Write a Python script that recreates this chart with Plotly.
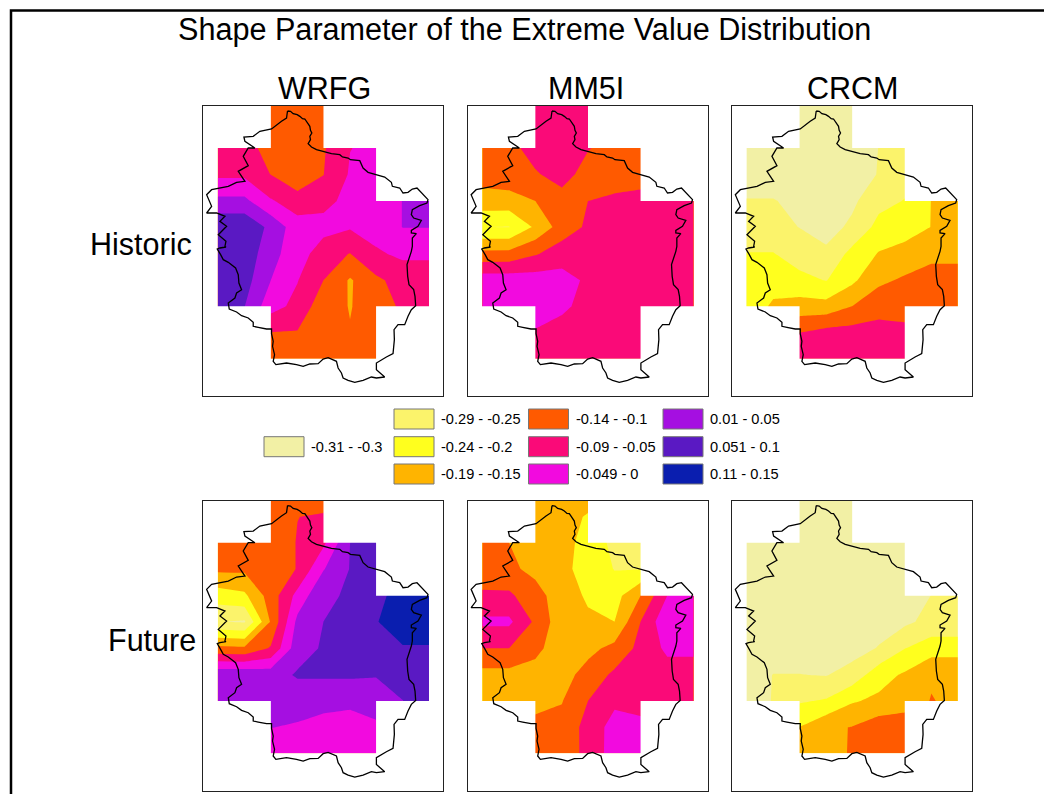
import plotly.graph_objects as go

FONT = "Liberation Sans"
TITLE = "Shape Parameter of the Extreme Value Distribution"
MODELS = ["WRFG", "MM5I", "CRCM"]
PERIODS = ["Historic", "Future"]
CLASS_LABELS = ["-0.31 - -0.3", "-0.29 - -0.25", "-0.24 - -0.2", "-0.19 - -0.15", "-0.14 - -0.1",
                "-0.09 - -0.05", "-0.049 - 0", "0.01 - 0.05", "0.051 - 0.1", "0.11 - 0.15"]
CLASS_COLORS = ["#F2F0A5", "#FBF36B", "#FFFF1E", "#FFB400", "#FF5A00",
                "#FA0A78", "#F20ADF", "#A50FE1", "#5A19C3", "#0A1EAF"]

GRID_X = [68, 148, 227, 307, 385, 465, 543, 623, 702]
GRID_Y = [-15, 65, 143, 222, 302, 380, 460, 540, 618, 697, 775]

WRFG_HIST = [
    [-.10, -.10, -.12, -.12, -.12, -.08, -.05, -.05, -.05],
    [-.10, -.10, -.12, -.12, -.12, -.08, -.05, -.05, -.05],
    [-.08, -.088, -.112, -.125, -.105, -.051, -.04, -.04, -.04],
    [-.06, -.06, -.101, -.14, -.101, -.045, -.035, .002, .002],
    [.0125, .0125, -.045, -.076, -.07, -.03, -.03, .001, .001],
    [.09, .09, .037, -.029, -.027, -.045, -.03, .001, .001],
    [.09, .09, .01, -.017, -.086, -.101, -.057, -.04, -.04],
    [.09, .07, 0, -.048, -.10, -.1555, -.11, -.08, -.08],
    [.09, .051, -.03, -.065, -.13, -.152, -.13, -.09, -.08],
    [.09, .05, -.101, -.103, -.13, -.148, -.13, -.09, -.08],
    [.09, .05, -.12, -.12, -.12, -.125, -.12, -.09, -.08],
]
MM5I_HIST = [
    [-.12, -.12, -.09, -.09, -.09, -.12, -.12, -.12, -.12],
    [-.12, -.12, -.09, -.09, -.09, -.12, -.12, -.12, -.12],
    [-.12, -.115, -.08, -.08, -.097, -.12, -.12, -.12, -.12],
    [-.13, -.12, -.105, -.08, -.12, -.125, -.12, -.12, -.12],
    [-.17, -.17, -.15, -.12, -.10, -.09, -.085, -.08, -.08],
    [-.2495, -.2515, -.192, -.127, -.092, -.08, -.08, -.075, -.075],
    [-.136, -.135, -.105, -.075, -.08, -.08, -.08, -.075, -.075],
    [-.02, -.02, -.025, -.03, -.0586, -.07, -.075, -.075, -.075],
    [-.02, -.02, -.02, -.04, -.067, -.07, -.075, -.075, -.075],
    [-.02, -.02, -.055, -.07, -.075, -.07, -.07, -.07, -.07],
    [-.02, -.02, -.07, -.07, -.07, -.07, -.07, -.07, -.07],
]
CRCM_HIST = [
    [-.32, -.32, -.32, -.32, -.32, -.32, -.32, -.32, -.32],
    [-.32, -.32, -.32, -.32, -.32, -.32, -.32, -.32, -.32],
    [-.31, -.31, -.31, -.33, -.32, -.2995, -.28, -.25, -.25],
    [-.32, -.32, -.31, -.33, -.32, -.298, -.27, -.25, -.25],
    [-.298, -.298, -.31, -.33, -.31, -.265, -.248, -.199, -.18],
    [-.285, -.285, -.301, -.32, -.29, -.235, -.225, -.199, -.18],
    [-.248, -.248, -.275, -.29, -.235, -.197, -.18, -.17, -.17],
    [-.23, -.225, -.235, -.252, -.21, -.16, -.143, -.117, -.117],
    [-.24, -.19, -.18, -.181, -.15, -.12, -.12, -.115, -.115],
    [-.24, -.19, -.10, -.082, -.08, -.08, -.087, -.087, -.087],
    [-.24, -.19, -.06, -.06, -.06, -.06, -.06, -.06, -.06],
]
WRFG_FUT = [
    [-.13, -.13, -.13, -.13, -.13, -.05, .05, .08, .08],
    [-.13, -.13, -.13, -.1005, -.095, -.05, .05, .08, .08],
    [-.12, -.125, -.125, -.098, -.06, .05, .08, .08, .08],
    [-.14, -.14, -.125, -.098, -.003, .052, .07, .09, .09],
    [-.225, -.21, -.127, -.034, .047, .052, .09, .115, .115],
    [-.298, -.305, -.145, .013, .05, .07, .098, .12, .12],
    [-.135, -.14, -.095, .03, .055, .07, .08, .097, .097],
    [.04, .04, .03, .055, .055, .055, .053, .06, .07],
    [.03, .03, .03, .02, .02, .02, .02, .0495, .07],
    [.03, .03, .001, -.005, -.0225, -.04, -.008, .05, .07],
    [.03, .03, -.03, -.03, -.03, -.04, -.03, .05, .07],
]
MM5I_FUT = [
    [-.14, -.14, -.17, -.17, -.17, -.2, -.2, -.2, -.2],
    [-.14, -.14, -.17, -.18, -.205, -.22, -.2, -.2, -.2],
    [-.14, -.15, -.16, -.185, -.215, -.265, -.27, -.2, -.2],
    [-.135, -.142, -.16, -.19, -.215, -.252, -.252, -.1, -.1],
    [-.09, -.09, -.135, -.171, -.208, -.22, -.15, -.05, -.04],
    [-.04, -.04, -.109, -.182, -.19, -.2, -.10, -.011, -.005],
    [-.10, -.10, -.14, -.172, -.165, -.135, -.086, -.04, -.04],
    [-.167, -.167, -.165, -.17, -.13, -.09, -.08, -.072, -.072],
    [-.18, -.18, -.16, -.152, -.10, -.06, -.07, -.08, -.08],
    [-.18, -.18, -.14, -.135, -.082, -.03, -.035, -.08, -.08],
    [-.18, -.18, -.14, -.14, -.08, -.03, -.03, -.08, -.08],
]
CRCM_FUT = [
    [-.32, -.32, -.32, -.32, -.32, -.32, -.32, -.32, -.32],
    [-.32, -.32, -.32, -.32, -.32, -.32, -.32, -.32, -.32],
    [-.32, -.32, -.32, -.32, -.32, -.32, -.32, -.32, -.32],
    [-.32, -.32, -.32, -.32, -.32, -.32, -.32, -.32, -.32],
    [-.32, -.32, -.32, -.32, -.32, -.32, -.33, -.299, -.295],
    [-.32, -.32, -.32, -.32, -.32, -.32, -.31, -.285, -.285],
    [-.32, -.32, -.32, -.32, -.32, -.297, -.251, -.2225, -.2225],
    [-.32, -.299, -.299, -.302, -.28, -.22, -.193, -.155, -.155],
    [-.33, -.297, -.255, -.245, -.205, -.19, -.175, -.148, -.16],
    [-.33, -.297, -.199, -.16, -.148, -.12, -.117, -.16, -.16],
    [-.33, -.297, -.17, -.19, -.14, -.115, -.115, -.16, -.16],
]

BASIN_X = [277, 286, 294, 306, 314, 322, 329, 336, 344, 346, 350, 344, 346, 339, 349, 364, 384,
           409, 434, 442, 459, 466, 494, 504, 519, 544, 569, 589, 592, 614, 624, 639, 652, 666, 676, 689, 699,
           696, 674, 652, 649, 656, 669, 679, 669, 649, 649, 664, 652, 652,
           649, 642, 636, 638, 642, 656, 660, 662, 649, 639, 629, 609, 597, 598, 594, 574, 544, 544, 569, 544,
           529, 504, 479, 459, 444, 439, 429, 424, 399, 384,
           369, 344, 324, 304, 274, 242, 234, 238, 232, 234, 229, 229, 214, 189, 174, 174, 159, 139, 124, 102,
           99, 119, 124, 139, 131, 129, 121, 99, 84, 76, 66, 74, 92,
           89, 92, 69, 94, 74, 89, 64, 34, 49, 34, 49, 74, 99, 124, 149, 129, 159, 144, 159, 179, 149, 146, 174,
           194, 229, 259, 274, 277]
BASIN_Y = [32, 33, 40, 43, 48, 55, 56, 68, 78, 90, 98, 108, 118, 130, 140, 148, 153,
           160, 163, 170, 173, 178, 181, 203, 216, 223, 230, 246, 258, 263, 278, 276, 266, 263, 273, 288, 298,
           308, 316, 328, 343, 353, 358, 360, 378, 390, 398, 400, 413, 438,
           453, 478, 493, 528, 553, 568, 588, 616, 628, 648, 673, 673, 688, 718, 760, 770, 788, 808, 830, 833,
           830, 840, 846, 840, 833, 818, 803, 783, 772, 776,
           790, 791, 798, 793, 788, 793, 783, 763, 738, 723, 700, 686, 686, 681, 678, 666, 653, 646, 635, 626,
           608, 593, 578, 568, 548, 523, 503, 486, 478, 463, 446, 443, 440,
           438, 423, 403, 378, 363, 348, 338, 338, 318, 283, 268, 263, 258, 246, 243, 213, 196, 168, 143, 143, 123,
           110, 108, 93, 86, 63, 53, 32]

GRIDS = [[WRFG_HIST, MM5I_HIST, CRCM_HIST], [WRFG_FUT, MM5I_FUT, CRCM_FUT]]

W, H = 1044, 794
PANEL_LEFT = [203.3, 467.8, 732.0]
PANEL_TOP = [106.0, 500.7]
PANEL_W, PANEL_H = 240.0, 290.0
RANGE_X = [24, 745]
RANGE_Y = [887, 17]


def px(x):
    return x / W


def py(y):
    return 1 - y / H


# the grid is a plus shape: the corners of the rectangle are blanked
X, Y = GRID_X, GRID_Y
PAD = 8
blanks = [(X[0] - PAD, X[2], Y[0], Y[2]), (X[4], X[8] + PAD, Y[0], Y[2]), (X[6], X[8] + PAD, Y[2], Y[4]),
          (X[0] - PAD, X[2], Y[8], Y[10] + PAD), (X[6], X[8] + PAD, Y[8], Y[10] + PAD),
          (X[2], X[6], Y[10], Y[10] + PAD)]
blank_x, blank_y = [], []
for x0, x1, y0, y1 in blanks:
    blank_x += [x0, x1, x1, x0, x0, None]
    blank_y += [y0, y0, y1, y1, y0, None]

scale = [[i / (len(CLASS_COLORS) - 1), c] for i, c in enumerate(CLASS_COLORS)]

fig = go.Figure()
layout = {}
n = 0
for r in range(2):
    for c in range(3):
        n += 1
        s = "" if n == 1 else str(n)
        fig.add_trace(go.Contour(
            x=GRID_X, y=GRID_Y, z=GRIDS[r][c], xaxis="x" + s, yaxis="y" + s,
            colorscale=scale, showscale=False, hoverinfo="skip", connectgaps=True,
            autocontour=False, contours=dict(start=-0.30, end=0.10, size=0.05, coloring="fill", showlines=False),
            line=dict(width=0, smoothing=0)))
        fig.add_trace(go.Scatter(
            x=blank_x, y=blank_y, xaxis="x" + s, yaxis="y" + s, mode="lines", fill="toself",
            fillcolor="white", line=dict(width=0, color="white"), hoverinfo="skip", showlegend=False))
        fig.add_trace(go.Scatter(
            x=BASIN_X, y=BASIN_Y, xaxis="x" + s, yaxis="y" + s, mode="lines",
            line=dict(color="black", width=1.3), hoverinfo="skip", showlegend=False))
        axis = dict(showgrid=False, zeroline=False, showticklabels=False, ticks="", showline=True,
                    linecolor="#222222", linewidth=1, mirror=True)
        layout["xaxis" + s] = dict(axis, range=RANGE_X, anchor="y" + s,
                                   domain=[px(PANEL_LEFT[c]), px(PANEL_LEFT[c] + PANEL_W)])
        layout["yaxis" + s] = dict(axis, range=RANGE_Y, anchor="x" + s,
                                   domain=[py(PANEL_TOP[r] + PANEL_H), py(PANEL_TOP[r])])

annotations = []


def text(t, x, y, size, anchor="center"):
    annotations.append(dict(text=t, x=px(x), y=py(y), xref="paper", yref="paper", showarrow=False,
                            xanchor=anchor, yanchor="middle", font=dict(family=FONT, size=size, color="black")))


text(TITLE, 524, 29, 30.6)
for name, cx in zip(MODELS, [324.5, 586, 853]):
    text(name, cx, 88, 30.5)
text(PERIODS[0], 140.5, 244, 30.5)
text(PERIODS[1], 151.5, 640, 30.5)

shapes = [dict(type="path", xref="paper", yref="paper",
               path=f"M {px(11)} 0 L {px(11)} {py(10.5)} L 1 {py(10.5)}",
               line=dict(color="black", width=2.5))]

swatch_pos = [(264, 446.7)] + [(x, y) for x in (394, 528.5, 663) for y in (419, 446.7, 474)]
for (sx, sy), col, lab in zip(swatch_pos, CLASS_COLORS, CLASS_LABELS):
    shapes.append(dict(type="rect", xref="paper", yref="paper", x0=px(sx), x1=px(sx + 40),
                       y0=py(sy - 10), y1=py(sy + 10), fillcolor=col, line=dict(color="#777777", width=1)))
    text(lab, sx + 45, sy, 14.6, "left")

fig.update_layout(width=W, height=H, margin=dict(l=0, r=0, t=0, b=0), paper_bgcolor="white",
                  plot_bgcolor="white", showlegend=False, annotations=annotations, shapes=shapes, **layout)
fig.write_html("out.html", config={"displayModeBar": False},
               post_script="document.body.style.margin='0';document.body.style.overflow='hidden';")
